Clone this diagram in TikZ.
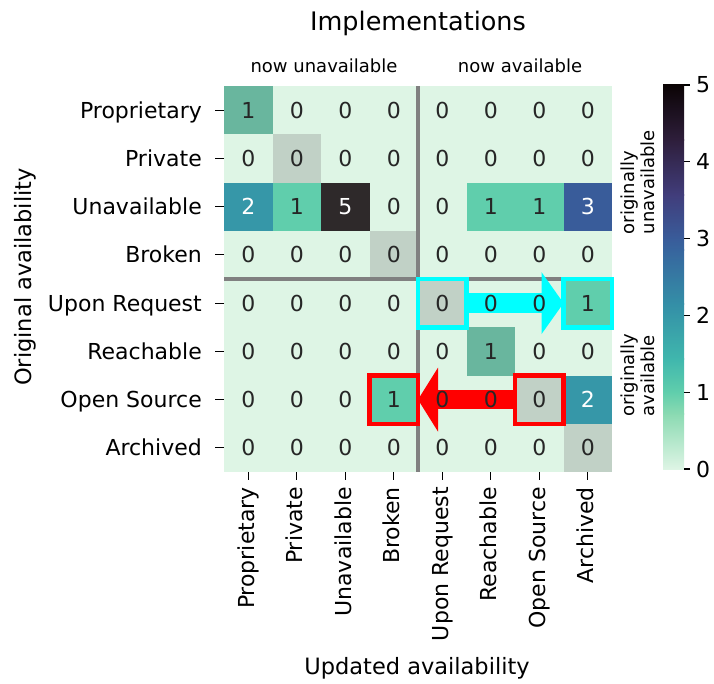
\documentclass[tikz,border=0pt]{standalone}
\usepackage{fontspec}
\setmainfont{DejaVu Sans}
\usetikzlibrary{arrows.meta}

\definecolor{mk0}{HTML}{DEF5E5}
\definecolor{mk1}{HTML}{60CEAC}
\definecolor{mk2}{HTML}{3697A8}
\definecolor{mk3}{HTML}{395C9A}
\definecolor{mk4}{HTML}{413D7B}
\definecolor{mk5}{HTML}{0B0405}
% colorbar stops, light to dark
\definecolor{cb0}{HTML}{DEF5E5}
\definecolor{cb1}{HTML}{8BDAB2}
\definecolor{cb2}{HTML}{60CEAC}
\definecolor{cb3}{HTML}{40B7AD}
\definecolor{cb4}{HTML}{3697A8}
\definecolor{cb5}{HTML}{348FA7}
\definecolor{cb6}{HTML}{37659E}
\definecolor{cb7}{HTML}{395C9A}
\definecolor{cb8}{HTML}{413D7B}
\definecolor{cb9}{HTML}{2E1E3B}
\definecolor{cb10}{HTML}{0B0405}
\definecolor{annodark}{HTML}{262626}
\definecolor{sepgray}{HTML}{808080}
\definecolor{hlcyan}{RGB}{0,255,255}
\definecolor{hlred}{RGB}{255,0,0}

\begin{document}
\begin{tikzpicture}[x=1pt,y=-1pt,
  cell/.style={minimum width=48.5pt,minimum height=48.25pt,inner sep=0pt,outer sep=0pt},
  numlbl/.style={font=\fontsize{22}{26}\selectfont,inner sep=0pt},
  ticklbl/.style={font=\fontsize{22}{26}\selectfont,inner sep=0pt,text height=16pt,text depth=0pt},
  axislbl/.style={font=\fontsize{22.5}{27}\selectfont,inner sep=0pt},
  smalllbl/.style={font=\fontsize{18}{20}\selectfont,inner sep=0pt},
  sidelbl/.style={smalllbl,rotate=90,align=left},
  seprule/.style={sepgray,line width=4pt},
  hilite/.style={line width=4.5pt},
  tickline/.style={line width=1.2pt}]
  \tikzstyle{every node}=[text=black]

  \useasboundingbox (0,0) rectangle (714,683);

  \def\heatrows{0/{1,0,0,0,0,0,0,0},1/{0,0,0,0,0,0,0,0},2/{2,1,5,0,0,1,1,3},3/{0,0,0,0,0,0,0,0},4/{0,0,0,0,0,0,0,1},5/{0,0,0,0,0,1,0,0},6/{0,0,0,1,0,0,0,2},7/{0,0,0,0,0,0,0,0}}

  % heatmap cells
  \foreach \r/\vals in \heatrows
    \foreach \v [count=\c from 0] in \vals
      \node[cell,fill=mk\v] (c\r\c) at ({248.25+48.5*\c},{110.125+48.25*\r}) {};

  % grey on the diagonal
  \foreach \i in {0,...,7}
    \fill[sepgray,opacity=0.3] (c\i\i.north west) rectangle (c\i\i.south east);

  \draw[seprule] (c03.north east) -- (c73.south east);
  \draw[seprule] (c40.north west) -- (c47.north east);

  % moves
  \draw[hlcyan,line width=20pt,-{Triangle[width=62pt,length=22pt,line width=0pt]}] (c44.east) -- (c47.west);
  \draw[hlred,line width=19pt,-{Triangle[width=64pt,length=20pt,line width=0pt]}] (c66.west) -- (c63.east);

  \draw[hlcyan,hilite] (c44.north west) rectangle (c44.south east);
  \draw[hlcyan,hilite] (c47.north west) rectangle (c47.south east);
  \draw[hlred,hilite] (c63.north west) rectangle (c63.south east);
  \draw[hlred,hilite] (c66.north west) rectangle (c66.south east);

  % counts
  \foreach \r/\vals in \heatrows
    \foreach \v [count=\c from 0] in \vals {
      \ifnum\v>1 \def\numcol{white}\else\def\numcol{annodark}\fi
      \node[numlbl,text=\numcol] (n\r\c) at (c\r\c) {\v};
    }

  % row and column labels
  \foreach \name [count=\k from 0] in {Proprietary,Private,Unavailable,Broken,Upon Request,Reachable,Open Source,Archived} {
    \draw[tickline] (c\k0.west) -- ++(-9,0);
    \node[ticklbl,anchor=east] (rl\k) at ([xshift=-22pt]c\k0.west) {\name};
    \draw[tickline] (c7\k.south) -- ++(0,8);
    \node[ticklbl,rotate=90,anchor=east,text depth=4.5pt] (cl\k) at ([yshift=-15pt]c7\k.south) {\name};
  }

  \node[font=\fontsize{25.5}{30}\selectfont,inner sep=0pt] (title) at (418,23) {Implementations};
  \node[smalllbl] (nowun) at (324,66) {now unavailable};
  \node[smalllbl] (nowav) at (520,66) {now available};
  \node[axislbl] (xlab) at (417,668) {Updated availability};
  \node[axislbl,rotate=90] (ylab) at (25,277) {Original availability};
  \node[sidelbl] (origun) at (638,182) {originally\\unavailable};
  \node[sidelbl] (origav) at (638,375) {originally\\available};

  % colorbar
  \foreach \fa/\ca/\fb/\cb in {0/cb0/0.143/cb1,0.143/cb1/0.2/cb2,0.2/cb2/0.286/cb3,0.286/cb3/0.4/cb4,0.4/cb4/0.429/cb5,0.429/cb5/0.571/cb6,0.571/cb6/0.6/cb7,0.6/cb7/0.714/cb8,0.714/cb8/0.857/cb9,0.857/cb9/1/cb10}
    \shade[bottom color=\ca,top color=\cb] (663,{469.3-384*\fa}) rectangle (684,{468.7-384*\fb});
  \foreach \t in {0,...,5} {
    \draw[tickline] (684,{469-76.8*\t}) -- ++(6,0);
    \node[numlbl,anchor=west] (cbl\t) at (696,{469-76.8*\t}) {\t};
  }
\end{tikzpicture}
\end{document}
